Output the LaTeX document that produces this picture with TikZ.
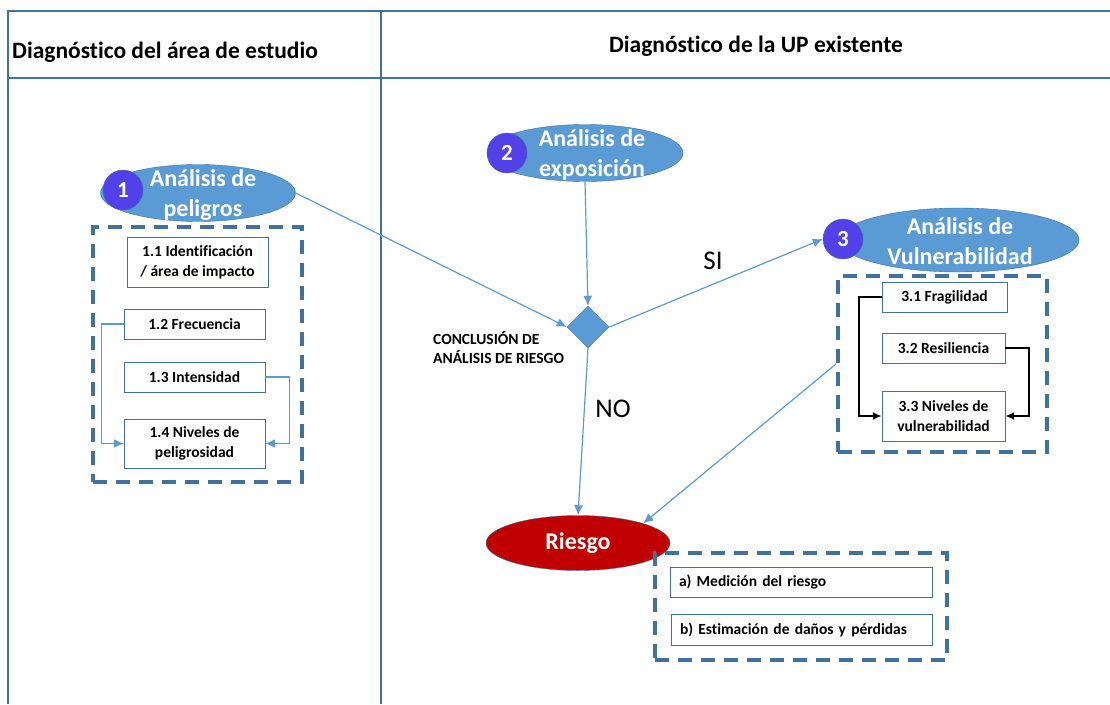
\documentclass[tikz,border=0pt]{standalone}
\usepackage{fontspec}
\setmainfont[Ligatures=NoCommon]{Carlito}
\usetikzlibrary{shapes.geometric,arrows.meta}
\definecolor{Lineblue}{RGB}{91,155,213}
\definecolor{Frameblue}{RGB}{65,113,156}
\definecolor{Numviolet}{RGB}{82,64,232}
\definecolor{Riskred}{RGB}{192,0,0}

\begin{document}
\begin{tikzpicture}[x=1pt,y=-1pt,
            tabla/.style={draw=Frameblue, line width=1.5pt},
            titulo/.style={font=\fontsize{23.5}{28}\selectfont\bfseries},
            elip/.style={ellipse, draw=Frameblue, fill=Lineblue, inner sep=0pt},
            eliptxt/.style={text=white, align=center, font=\fontsize{24}{30}\selectfont\bfseries},
            num/.style={circle, draw=Frameblue, fill=Numviolet, text=white, minimum size=40pt, inner sep=0pt, font=\fontsize{23}{23}\selectfont\bfseries},
            marco/.style={draw=Frameblue, line width=4pt, dash pattern=on 14pt off 9pt, inner sep=0pt},
            caja/.style={draw=Frameblue, fill=white, align=center, inner sep=0pt, font=\fontsize{15.5}{20}\selectfont\bfseries},
            flecha/.style={draw=Lineblue, line width=1.2pt, ->, >={Latex[length=10pt,width=9pt]}},
            negra/.style={draw=black, line width=1.8pt, ->, >={Latex[length=9pt,width=8pt]}},
            etiq/.style={font=\fontsize{27}{30}\selectfont}]
            \useasboundingbox (0,0) rectangle (1110,704);

            \draw[tabla] (8,704) -- (8,11) -- (1110,11);
            \draw[tabla] (8,78) -- (1110,78);
            \draw[tabla] (381,11) -- (381,704);
            \node[titulo, anchor=west, inner xsep=0pt] (t1) at (12,52) {Diagnóstico del área de estudio};
            \node[titulo] (t2) at (756,46) {Diagnóstico de la UP existente};

            \node[elip, minimum width=195pt, minimum height=57pt] (pel) at (198,193) {};
            \node[eliptxt] (pelt) at (203,195) {Análisis de\\peligros};
            \node[num] (num1) at (123,190) {1};
            \node[elip, minimum width=196pt, minimum height=57pt] (exp) at (585,153) {};
            \node[eliptxt] (expt) at (592,155) {Análisis de\\exposición};
            \node[num] (num2) at (507,153) {2};
            \node[elip, minimum width=240pt, minimum height=64pt] (vul) at (959,240) {};
            \node[eliptxt] (vult) at (960,241) {Análisis de\\Vulnerabilidad};
            \node[num] (num3) at (843,239) {3};

            \node[marco, minimum width=209pt, minimum height=255pt] (f1) at (197.5,354.5) {};
            \node[caja, minimum width=141pt, minimum height=50pt] (b11) at (197.5,262) {1.1 Identificación\\/ área de impacto};
            \node[caja, minimum width=141pt, minimum height=30pt] (b12) at (194.5,324) {1.2 Frecuencia};
            \node[caja, minimum width=141pt, minimum height=30pt] (b13) at (194.5,377) {1.3 Intensidad};
            \node[caja, minimum width=141pt, minimum height=49pt] (b14) at (194.5,443.5) {1.4 Niveles de\\peligrosidad};
            \draw[flecha] (b12.west) -- ++(-22,0) |- (b14.west);
            \draw[flecha] (b13.east) -- ++(24,0) |- (b14.east);

            \node[marco, minimum width=209pt, minimum height=176pt] (f3) at (942.5,364) {};
            \node[caja, minimum width=125pt, minimum height=30pt] (b31) at (944.5,297) {3.1 Fragilidad};
            \node[caja, minimum width=123pt, minimum height=30pt] (b32) at (943.5,348) {3.2 Resiliencia};
            \node[caja, minimum width=123pt, minimum height=50pt] (b33) at (943.5,416) {3.3 Niveles de\\vulnerabilidad};
            \draw[negra] (b31.west) -- ++(-23,0) |- (b33.west);
            \draw[negra] (b32.east) -- ++(24,0) |- (b33.east);

            \node[diamond, draw=Frameblue, fill=Lineblue, minimum size=42pt, inner sep=0pt] (dia) at (588,327) {};
            \node[anchor=west, align=left, inner xsep=0pt, font=\fontsize{15.5}{19}\selectfont\bfseries] (conc) at (433,347.5) {CONCLUSIÓN DE\\ANÁLISIS DE RIESGO};
            \node[ellipse, draw=Frameblue, fill=Riskred, text=white, minimum width=184pt, minimum height=55pt, inner sep=0pt, font=\fontsize{24}{28}\selectfont\bfseries] (ries) at (578,543) {Riesgo};

            \node[marco, minimum width=292pt, minimum height=107pt] (fr) at (801,606.5) {};
            \node[caja, align=left, text width=244pt, inner xsep=9pt, minimum height=30pt] (ba) at (801,582) {a) Medición del riesgo};
            \node[caja, align=left, text width=243pt, inner xsep=9pt, minimum height=31pt] (bb) at (801.5,629.5) {b) Estimación de daños y pérdidas};

            \draw[flecha] (pel.east) -- (dia.west);
            \draw[flecha] (exp.south) -- (dia.north);
            \draw[flecha] (dia.east) -- (num3.west);
            \draw[flecha] (dia.south) -- (ries.north);
            \draw[flecha] (f3.west) -- (ries.north east);
            \node[etiq] (si) at (713,261) {SI};
            \node[etiq] (no) at (613,409) {NO};
        \end{tikzpicture}
\end{document}
